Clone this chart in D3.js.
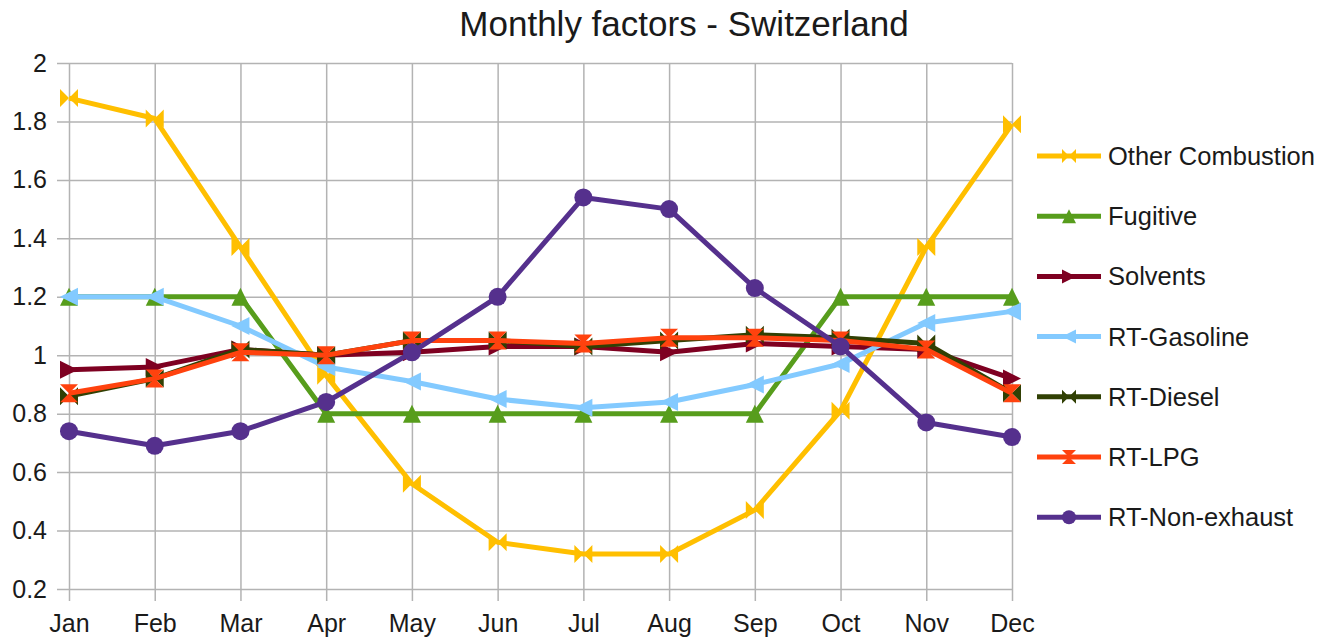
<!DOCTYPE html>
<html>
<head>
<meta charset="utf-8">
<script src="https://cdn.jsdelivr.net/npm/d3@7"></script>
<style>
  body { margin: 0; background: #fff; }
  text { font-family: "Liberation Sans", Arial, sans-serif; fill: #1a1a1a; }
</style>
</head>
<body>
<svg id="canvas" width="1330" height="643"></svg>
<script>
const months = ["Jan", "Feb", "Mar", "Apr", "May", "Jun", "Jul", "Aug", "Sep", "Oct", "Nov", "Dec"];
const yTicks = [0.2, 0.4, 0.6, 0.8, 1, 1.2, 1.4, 1.6, 1.8, 2];

const otherCombustion = [1.88, 1.81, 1.37, 0.93, 0.56, 0.36, 0.32, 0.32, 0.47, 0.81, 1.37, 1.79];
const fugitive = [1.2, 1.2, 1.2, 0.8, 0.8, 0.8, 0.8, 0.8, 0.8, 1.2, 1.2, 1.2];
const solvents = [0.95, 0.96, 1.02, 1.0, 1.01, 1.03, 1.03, 1.01, 1.04, 1.03, 1.02, 0.92];
const rtGasoline = [1.2, 1.2, 1.1, 0.96, 0.91, 0.85, 0.82, 0.84, 0.9, 0.97, 1.11, 1.15];
const rtDiesel = [0.86, 0.92, 1.02, 1.0, 1.05, 1.05, 1.03, 1.05, 1.07, 1.06, 1.04, 0.87];
const rtLPG = [0.87, 0.92, 1.01, 1.0, 1.05, 1.05, 1.04, 1.06, 1.06, 1.05, 1.02, 0.87];
const rtNonExhaust = [0.74, 0.69, 0.74, 0.84, 1.01, 1.2, 1.54, 1.5, 1.23, 1.03, 0.77, 0.72];

const series = [
  { name: "Other Combustion", values: otherCombustion, color: "#ffbf00", shape: "bowH" },
  { name: "Fugitive", values: fugitive, color: "#579d1c", shape: "up" },
  { name: "Solvents", values: solvents, color: "#7e0021", shape: "right" },
  { name: "RT-Gasoline", values: rtGasoline, color: "#83caff", shape: "left" },
  { name: "RT-Diesel", values: rtDiesel, color: "#314004", shape: "bowH" },
  { name: "RT-LPG", values: rtLPG, color: "#ff420e", shape: "bowV" },
  { name: "RT-Non-exhaust", values: rtNonExhaust, color: "#55308d", shape: "circle" },
];

const plot = { left: 69, right: 1012, top: 63, bottom: 589, tick: 12 };

// marker path centred on 0,0 with half-size r
function markerPath(shape, r) {
  switch (shape) {
    case "up": return `M0,${-r}L${r},${r}L${-r},${r}Z`;
    case "right": return `M${r},0L${-r},${-r}L${-r},${r}Z`;
    case "left": return `M${-r},0L${r},${-r}L${r},${r}Z`;
    case "bowH": return `M${-r},${-r}L0,0L${-r},${r}ZM${r},${-r}L0,0L${r},${r}Z`;
    case "bowV": return `M${-r},${-r}L${r},${-r}L0,0ZM${-r},${r}L${r},${r}L0,0Z`;
    default: return `M${r},0A${r},${r} 0 1 1 ${-r},0A${r},${r} 0 1 1 ${r},0Z`;
  }
}

const svg = d3.select("#canvas");

const x = d3.scalePoint()
  .domain(months)
  .range([plot.left, plot.right]);

const y = d3.scaleLinear()
  .domain([0.2, 2])
  .range([plot.bottom, plot.top]);

// gridlines + labels
const yAxis = svg.append("g")
  .attr("transform", `translate(${plot.left - plot.tick},0)`)
  .call(d3.axisLeft(y)
    .tickValues(yTicks)
    .tickFormat(d => String(+d.toFixed(1)))
    .tickSize(-(plot.right - plot.left + plot.tick))
    .tickPadding(10));
yAxis.select(".domain").remove();
yAxis.selectAll("line").attr("stroke", "#b3b3b3").attr("stroke-width", 1.5);
yAxis.selectAll("text").attr("font-size", 25).attr("fill", "#1a1a1a")
  .attr("font-family", "Liberation Sans, Arial, sans-serif");

const xAxis = svg.append("g")
  .attr("transform", `translate(0,${plot.bottom + plot.tick})`)
  .call(d3.axisBottom(x)
    .tickSize(-(plot.bottom + plot.tick - plot.top))
    .tickPadding(13));
xAxis.select(".domain").remove();
xAxis.selectAll("line").attr("stroke", "#b3b3b3").attr("stroke-width", 1.5);
xAxis.selectAll("text").attr("font-size", 25).attr("fill", "#1a1a1a")
  .attr("font-family", "Liberation Sans, Arial, sans-serif");

// title
svg.append("text")
  .attr("x", 684)
  .attr("y", 36)
  .attr("text-anchor", "middle")
  .attr("font-size", 35)
  .text("Monthly factors - Switzerland");

const line = d3.line()
  .x((d, i) => x(months[i]))
  .y(d => y(d));

const lines = svg.append("g").attr("class", "series");
series.forEach(s => {
  const g = lines.append("g");
  g.append("path")
    .attr("d", line(s.values))
    .attr("fill", "none")
    .attr("stroke", s.color)
    .attr("stroke-width", 5)
    .attr("stroke-linejoin", "round");
  g.selectAll("path.marker")
    .data(s.values)
    .join("path")
    .attr("class", "marker")
    .attr("d", markerPath(s.shape, 9))
    .attr("transform", (d, i) => `translate(${x(months[i])},${y(d)})`)
    .attr("fill", s.color);
});

// legend
const legend = svg.append("g")
  .attr("class", "legend")
  .attr("transform", "translate(1037,156)");
series.forEach((s, i) => {
  const g = legend.append("g").attr("transform", `translate(0,${i * 60.2})`);
  g.append("line")
    .attr("x1", 0).attr("x2", 64)
    .attr("stroke", s.color)
    .attr("stroke-width", 5);
  g.append("path")
    .attr("d", markerPath(s.shape, 7))
    .attr("transform", "translate(32,0)")
    .attr("fill", s.color);
  g.append("text")
    .attr("x", 71)
    .attr("dy", "0.35em")
    .attr("font-size", 25.5)
    .text(s.name);
});
</script>
</body>
</html>
